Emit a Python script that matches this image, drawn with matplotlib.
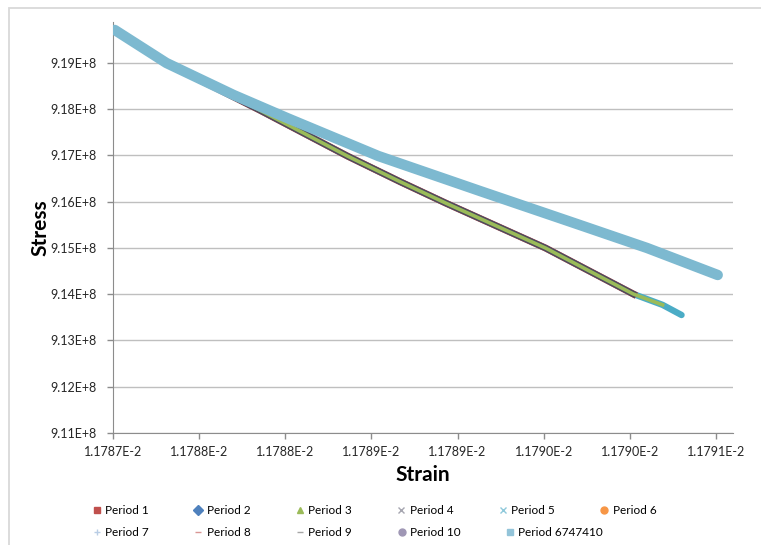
import matplotlib.pyplot as plt
from matplotlib.lines import Line2D
from matplotlib.patches import Rectangle

plt.rcParams['font.family'] = ['Lato', 'DejaVu Sans']

# 数据
# Period 6747410 曲线
long_strain = [1.178701e-2, 1.178731e-2, 1.178770e-2, 1.178801e-2, 1.178854e-2,
               1.178913e-2, 1.178971e-2, 1.179010e-2, 1.179051e-2]
long_stress = [9.19714e8, 9.19000e8, 9.18308e8, 9.17811e8, 9.16989e8,
               9.16232e8, 9.15497e8, 9.15000e8, 9.14416e8]

# Period 1-10 曲线（几乎重合）
period_strain = [1.178701e-2, 1.178731e-2, 1.178785e-2, 1.178836e-2, 1.178867e-2,
                 1.178893e-2, 1.178951e-2, 1.179002e-2, 1.179019e-2, 1.179030e-2]
period_stress = [9.19714e8, 9.19000e8, 9.17984e8, 9.16989e8, 9.16427e8,
                 9.15973e8, 9.15000e8, 9.14005e8, 9.13770e8, 9.13551e8]

x_ticks = [1.17870e-2, 1.17875e-2, 1.17880e-2, 1.17885e-2,
           1.17890e-2, 1.17895e-2, 1.17900e-2, 1.17905e-2]
x_tick_labels = ['1.1787E-2', '1.1788E-2', '1.1788E-2', '1.1789E-2',
                 '1.1789E-2', '1.1790E-2', '1.1790E-2', '1.1791E-2']
y_ticks = [9.11e8, 9.12e8, 9.13e8, 9.14e8, 9.15e8, 9.16e8, 9.17e8, 9.18e8, 9.19e8]
y_tick_labels = ['9.11E+8', '9.12E+8', '9.13E+8', '9.14E+8', '9.15E+8',
                 '9.16E+8', '9.17E+8', '9.18E+8', '9.19E+8']

# 图例：名称、颜色、标记
row1_names = ['Period 1', 'Period 2', 'Period 3', 'Period 4', 'Period 5', 'Period 6']
row1_colors = ['#C0504D', '#4F81BD', '#9BBB59', '#A6A6B0', '#8FC9DB', '#F79646']
row1_markers = ['s', 'D', '^', 'x', 'x', 'o']
row2_names = ['Period 7', 'Period 8', 'Period 9', 'Period 10', 'Period 6747410']
row2_colors = ['#B9CDE5', '#D99694', '#A6A6A6', '#9F97B5', '#93C4D9']
row2_markers = ['+', '_', '_', 'o', 's']

fig = plt.figure(figsize=(7.61, 5.45), dpi=100)
ax = fig.add_axes([113 / 761, 1 - 433 / 545, 620 / 761, 411 / 545])

# 外框
fig.add_artist(Rectangle((9 / 761, -0.05), 1.0, 1 - 8 / 545 + 0.05, transform=fig.transFigure,
                         fill=False, ec='#D9D9D9', lw=1.3))

# 绘制曲线：Period 5 在下，深色边，绿色在上
ax.plot(period_strain, period_stress, color='#4BACC6', lw=4.6, solid_capstyle='round',
        solid_joinstyle='round', zorder=2)
ax.plot(period_strain[:8], period_stress[:8], color='#C0504D', lw=5.0, solid_joinstyle='round', zorder=3)
ax.plot(period_strain[:8], period_stress[:8], color='#4A4A60', lw=4.6, solid_joinstyle='round', zorder=3)
ax.plot(period_strain[:9], period_stress[:9], color='#9BBB59', lw=2.6, solid_joinstyle='round', zorder=4)
ax.plot(long_strain, long_stress, color='#7DB9D0', lw=7.5, solid_capstyle='round',
        solid_joinstyle='round', zorder=5)

ax.set_xlim(1.1787e-2, 1.17905987e-2)
ax.set_ylim(9.11e8, 9.19886e8)
ax.set_xticks(x_ticks)
ax.set_xticklabels(x_tick_labels)
ax.set_yticks(y_ticks)
ax.set_yticklabels(y_tick_labels)
ax.tick_params(axis='both', labelsize=9, colors='#8C8C8C', labelcolor='#262626', length=4, width=1)
ax.tick_params(axis='x', pad=5)
ax.tick_params(axis='y', pad=8)

ax.yaxis.grid(True, color='#BFBFBF', lw=1)
ax.set_axisbelow(True)
for side in ['top', 'right']:
    ax.spines[side].set_visible(False)
for side in ['left', 'bottom']:
    ax.spines[side].set_color('#8C8C8C')

ax.set_xlabel('Strain', fontsize=15, fontweight='bold')
ax.set_ylabel('Stress', fontsize=15, fontweight='bold')
ax.xaxis.set_label_coords(0.5, (433 - 475) / 411, transform=ax.transAxes)
ax.yaxis.set_label_coords((40 - 113) / 620, 0.5, transform=ax.transAxes)
ax.xaxis.label.set_va('center')
ax.yaxis.label.set_va('center')

# 图例两行，分别绘制以保持等间距
h1 = [Line2D([], [], ls='none', marker=m, color=c, markersize=5) for m, c in zip(row1_markers, row1_colors)]
h2 = [Line2D([], [], ls='none', marker=m, color=c, markersize=5) for m, c in zip(row2_markers, row2_colors)]
leg1 = fig.legend(h1, row1_names, loc='center left', bbox_to_anchor=(92 / 761, 1 - 511 / 545), ncol=6,
                  frameon=False, fontsize=8.5, handlelength=0.8, handletextpad=0.3, columnspacing=3.8,
                  borderpad=0, borderaxespad=0)
leg2 = fig.legend(h2, row2_names, loc='center left', bbox_to_anchor=(92 / 761, 1 - 533 / 545), ncol=5,
                  frameon=False, fontsize=8.5, handlelength=0.8, handletextpad=0.3, columnspacing=3.8,
                  borderpad=0, borderaxespad=0)

plt.savefig('out.png', dpi=100)
